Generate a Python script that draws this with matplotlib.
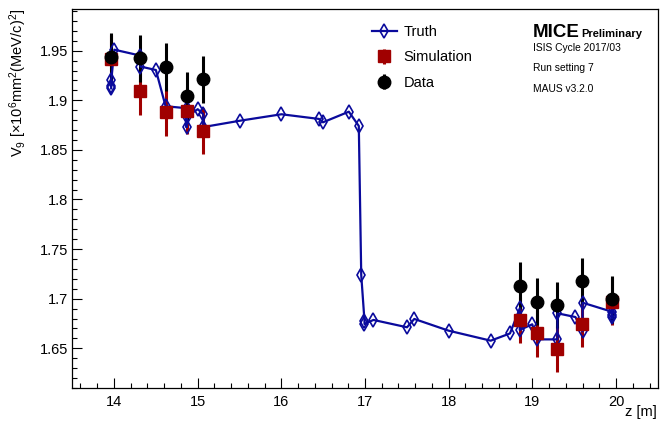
import matplotlib
matplotlib.use("Agg")
import matplotlib.pyplot as plt
from matplotlib.ticker import MultipleLocator, FormatStrFormatter
from matplotlib.legend_handler import HandlerTuple

plt.rcParams['font.family'] = ['Liberation Sans', 'DejaVu Sans']
plt.rcParams['mathtext.fontset'] = 'custom'
plt.rcParams['mathtext.rm'] = 'Liberation Sans'
plt.rcParams['mathtext.it'] = 'Liberation Sans:italic'

# truth values along the channel (in drawing order)
truth_z = [13.968, 13.968, 13.968, 14.006, 14.318, 14.318, 14.502, 14.618,
           14.868, 14.868, 14.868, 15.002, 15.068, 15.068, 15.506, 16.002,
           16.450, 16.498, 16.807, 16.926, 16.955, 16.994, 16.994, 17.101,
           17.502, 17.589, 17.998, 18.502, 18.732, 18.849, 18.849, 18.849,
           18.998, 19.049, 19.299, 19.299, 19.514, 19.599, 19.599, 19.949,
           19.949, 19.949]
truth_v = [1.912, 1.914, 1.920, 1.951, 1.945, 1.934, 1.9305, 1.894,
           1.892, 1.873, 1.8835, 1.891, 1.886, 1.873, 1.8794, 1.8859,
           1.8812, 1.8778, 1.8885, 1.8741, 1.7239, 1.6775, 1.6745, 1.6786,
           1.6712, 1.6796, 1.6678, 1.6577, 1.665, 1.6903, 1.6793, 1.6685,
           1.6742, 1.659, 1.659, 1.6853, 1.6815, 1.667, 1.696, 1.6869,
           1.6840, 1.6819]

# tracker stations (upstream 5..1, downstream 1..5)
station_z = [13.968, 14.318, 14.618, 14.868, 15.068,
             18.849, 19.049, 19.299, 19.589, 19.949]
sim_v = [1.942, 1.909, 1.8885, 1.8895, 1.869,
         1.6785, 1.6651, 1.6493, 1.6745, 1.697]
sim_err = [0.0235, 0.0235, 0.024, 0.0235, 0.0232,
           0.0235, 0.0235, 0.0235, 0.0235, 0.0235]
data_v = [1.944, 1.9423, 1.9333, 1.9043, 1.9212,
          1.7131, 1.6970, 1.6937, 1.7179, 1.6994]
data_err = [0.024, 0.0235, 0.024, 0.0238, 0.0235,
            0.0235, 0.0235, 0.0235, 0.0235, 0.0235]

W, H = 660, 422
fig = plt.figure(figsize=(W / 100, H / 100), dpi=100)
ax = fig.add_axes([72 / W, 1 - 388 / H, 586 / W, (388 - 9.3) / H])

blue = '#0a0a9c'
red = '#a00000'

sim_bars = ax.errorbar(station_z, sim_v, yerr=sim_err, fmt='none', ecolor=red,
                       elinewidth=2.2, capsize=0, zorder=2)
data_bars = ax.errorbar(station_z, data_v, yerr=data_err, fmt='none', ecolor='black',
                        elinewidth=2.2, capsize=0, zorder=2)
truth_line, = ax.plot(truth_z, truth_v, color=blue, lw=1.6, marker='d', ms=7,
                      mfc='none', mec=blue, mew=1.2, zorder=3)
sim_pts, = ax.plot(station_z, sim_v, ls='none', marker='s', ms=9,
                   color=red, zorder=4)
data_pts, = ax.plot(station_z, data_v, ls='none', marker='o', ms=9,
                    color='black', zorder=5)

ax.set_xlim(13.5, 20.5)
ax.set_ylim(1.610, 1.9917)
ax.xaxis.set_major_locator(MultipleLocator(1))
ax.xaxis.set_minor_locator(MultipleLocator(0.2))
ax.yaxis.set_major_locator(MultipleLocator(0.05))
ax.yaxis.set_minor_locator(MultipleLocator(0.01))
ax.yaxis.set_major_formatter(FormatStrFormatter('%g'))
ax.tick_params(which='both', direction='in', top=False, right=False,
               labelsize=10.5, width=0.8)
ax.tick_params(which='major', length=7.5)
ax.tick_params(which='minor', length=3.8)
ax.tick_params(axis='y', pad=3)
ax.tick_params(axis='x', pad=5)
for s in ax.spines.values():
    s.set_linewidth(0.9)

fig.text(641 / W, 1 - 412 / H, 'z [m]', ha='center', va='center', fontsize=10.5)
fig.text(18 / W, 1 - 9 / H, r'V$_{9}$ [$\times$10$^{6}$mm$^{2}$(MeV/c)$^{2}$]',
         rotation=90, ha='center', va='top', fontsize=10.5)

leg = ax.legend([truth_line, (sim_bars, sim_pts), (data_bars, data_pts)],
                ['Truth', 'Simulation', 'Data'],
                handler_map={tuple: HandlerTuple(ndivide=1)},
                loc='upper left', bbox_to_anchor=(372 / W, 1 - 25 / H),
                bbox_transform=fig.transFigure, frameon=False, fontsize=10.5,
                handlelength=1.7, handletextpad=0.45, labelspacing=0.78,
                borderpad=0, borderaxespad=0)

fig.text(533 / W, 1 - 37 / H, 'MICE', fontsize=13.5, fontweight='bold',
         ha='left', va='baseline')
fig.text(581 / W, 1 - 37 / H, 'Preliminary', fontsize=8, fontweight='bold',
         ha='left', va='baseline')
fig.text(533 / W, 1 - 48 / H, 'ISIS Cycle 2017/03', fontsize=7.4, ha='left', va='center')
fig.text(533 / W, 1 - 68 / H, 'Run setting 7', fontsize=7.4, ha='left', va='center')
fig.text(533 / W, 1 - 88.5 / H, 'MAUS v3.2.0', fontsize=7.4, ha='left', va='center')

fig.savefig('out.png', dpi=100)
